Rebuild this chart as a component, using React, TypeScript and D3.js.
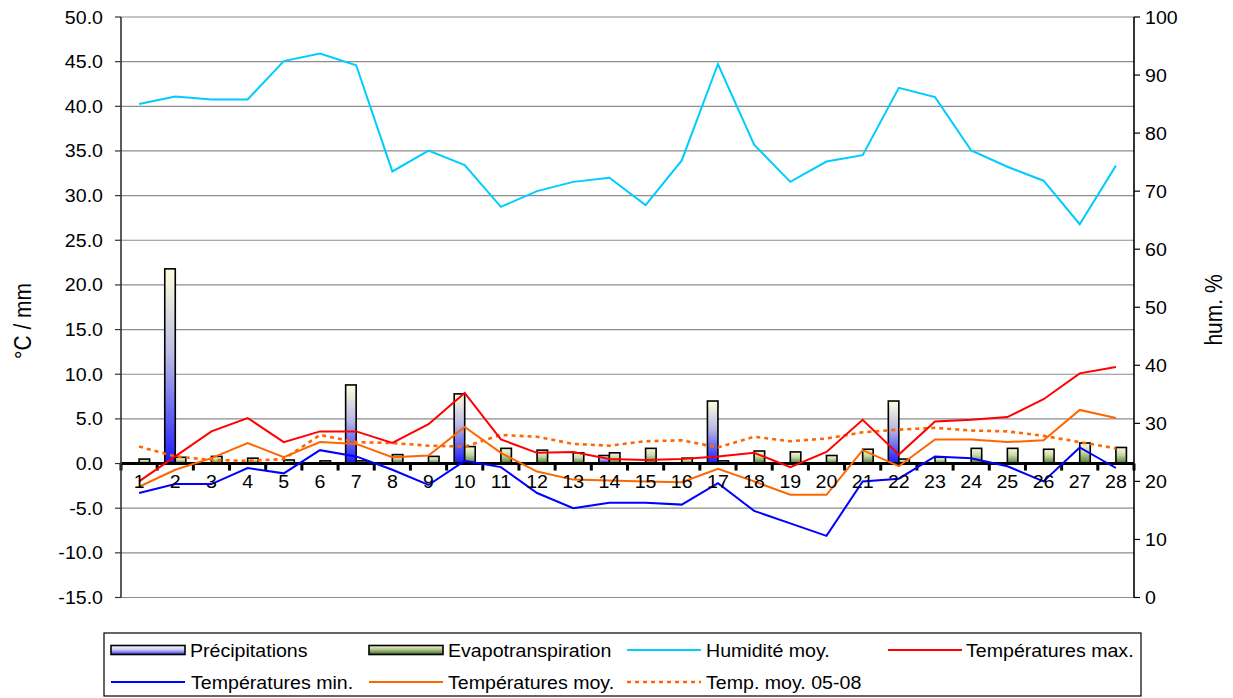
import * as d3 from 'd3';

// days of the month (x categories)
const days = ['1', '2', '3', '4', '5', '6', '7', '8', '9', '10', '11', '12', '13', '14',
  '15', '16', '17', '18', '19', '20', '21', '22', '23', '24', '25', '26', '27', '28'];

// mm
const precipitation = [0, 21.8, 0, 0, 0, 0, 8.8, 0, 0, 7.8, 0, 0, 0, 0.9,
  0, 0, 7.0, 0, 0, 0, 0, 7.0, 0, 0, 0, 0, 0, 0];
const evapotranspiration = [0.5, 0.7, 0.8, 0.6, 0.4, 0.3, 0.3, 1.0, 0.8, 1.9, 1.7, 1.5, 1.2, 1.2,
  1.7, 0.6, 0.3, 1.4, 1.3, 0.9, 1.6, 0.5, 0.7, 1.7, 1.7, 1.6, 2.3, 1.8];
// %
const humidity = [85.0, 86.3, 85.8, 85.8, 92.4, 93.7, 91.7, 73.4, 77.0, 74.5, 67.3, 70.0, 71.6, 72.3,
  67.6, 75.3, 91.9, 78.0, 71.6, 75.1, 76.2, 87.8, 86.2, 77.0, 74.2, 71.8, 64.3, 74.4];
// °C
const tempMax = [-2.0, 0.8, 3.6, 5.1, 2.4, 3.6, 3.6, 2.3, 4.4, 7.9, 2.7, 1.2, 1.3, 0.5,
  0.4, 0.5, 0.8, 1.2, -0.4, 1.3, 4.9, 1.0, 4.7, 4.9, 5.2, 7.2, 10.1, 10.8];
const tempMin = [-3.3, -2.3, -2.3, -0.5, -1.1, 1.5, 0.8, -0.7, -2.4, 0.3, -0.4, -3.3, -5.0, -4.4,
  -4.4, -4.6, -2.2, -5.3, -6.7, -8.1, -2.0, -1.7, 0.8, 0.6, -0.3, -2.0, 1.8, -0.5];
const tempMoy = [-2.6, -0.7, 0.6, 2.3, 0.7, 2.4, 2.2, 0.7, 0.9, 4.1, 1.2, -0.9, -1.8, -1.9,
  -2.0, -2.1, -0.6, -2.0, -3.5, -3.5, 1.5, -0.3, 2.7, 2.7, 2.4, 2.6, 6.0, 5.1];
const tempMoyRef = [1.9, 0.8, 0.4, 0.3, 0.5, 3.2, 2.4, 2.3, 2.0, 1.9, 3.2, 3.0, 2.2, 2.0,
  2.5, 2.6, 1.8, 3.0, 2.5, 2.8, 3.5, 3.8, 4.0, 3.7, 3.6, 3.1, 2.4, 1.7];

const leftTicks = [-15, -10, -5, 0, 5, 10, 15, 20, 25, 30, 35, 40, 45, 50];
const rightTicks = [0, 10, 20, 30, 40, 50, 60, 70, 80, 90, 100];

const FONT = '"Liberation Sans", Arial, sans-serif';
const SX = 1.12; // the original picture is a bit stretched sideways

const T = ({ x, y, size = 17.5, anchor = 'start', rotate = 0, children }: any) => (
  <text
    transform={`translate(${x},${y}) scale(${SX},1)${rotate ? ` rotate(${rotate})` : ''}`}
    fontSize={size}
    fontFamily={FONT}
    textAnchor={anchor}
    fill="#000"
  >
    {children}
  </text>
);

export default function App() {
  const left = 121, right = 1134, top = 17, bottom = 597.5;

  const x = d3.scaleBand().domain(days).range([left, right]);
  const xs = d3.scaleBand().domain(['p', 'e']).range([0, x.bandwidth()]).paddingOuter(0.72);
  const y = d3.scaleLinear().domain([-15, 50]).range([bottom, top]);
  const yh = d3.scaleLinear().domain([0, 100]).range([bottom, top]);
  const cx = (d: string) => (x(d) as number) + x.bandwidth() / 2;

  const tLine = (vals: number[]) =>
    d3.line<number>().x((_, i) => cx(days[i])).y((v) => y(v))(vals) as string;
  const hLine = d3.line<number>().x((_, i) => cx(days[i])).y((v) => yh(v));

  const lines = [
    { vals: tempMoyRef, color: '#FF6600', dash: '4,4', w: 2.6 },
    { vals: tempMoy, color: '#FF6600', dash: undefined, w: 2 },
    { vals: tempMin, color: '#0000FF', dash: undefined, w: 2 },
    { vals: tempMax, color: '#FF0000', dash: undefined, w: 2 },
  ];

  const bars = [
    { key: 'p', vals: precipitation, fill: 'url(#gPrec)' },
    { key: 'e', vals: evapotranspiration, fill: 'url(#gEvap)' },
  ];

  const legendRows = [
    [
      { kind: 'bar', fill: 'url(#gPrecL)', label: 'Précipitations', sx: 111, tx: 190 },
      { kind: 'bar', fill: 'url(#gEvapL)', label: 'Evapotranspiration', sx: 369, tx: 448 },
      { kind: 'line', color: '#00CCFF', label: 'Humidité moy.', sx: 627, tx: 706 },
      { kind: 'line', color: '#FF0000', label: 'Températures max.', sx: 888, tx: 966 },
    ],
    [
      { kind: 'line', color: '#0000FF', label: 'Températures min.', sx: 111, tx: 191 },
      { kind: 'line', color: '#FF6600', label: 'Températures moy.', sx: 369, tx: 448 },
      { kind: 'line', color: '#FF6600', dash: '4,4', label: 'Temp. moy. 05-08', sx: 627, tx: 706 },
    ],
  ];

  return (
    <svg width={1233} height={698} style={{ position: 'absolute', left: 0, top: 0, background: '#fff' }}>
      <defs>
        <linearGradient id="gPrec" x1="0" y1="0" x2="0" y2="1">
          <stop offset="0" stopColor="#FFFFDC" />
          <stop offset="0.45" stopColor="#B8B8E4" />
          <stop offset="1" stopColor="#1A1AFF" />
        </linearGradient>
        <linearGradient id="gEvap" x1="0" y1="0" x2="0" y2="1">
          <stop offset="0" stopColor="#FAFAD8" />
          <stop offset="0.45" stopColor="#C8D8A8" />
          <stop offset="1" stopColor="#4E8030" />
        </linearGradient>
        <linearGradient id="gPrecL" x1="0" y1="0" x2="0" y2="1">
          <stop offset="0" stopColor="#FFFFFF" />
          <stop offset="0.5" stopColor="#C8C8F0" />
          <stop offset="1" stopColor="#3030E0" />
        </linearGradient>
        <linearGradient id="gEvapL" x1="0" y1="0" x2="0" y2="1">
          <stop offset="0" stopColor="#F4F8E0" />
          <stop offset="0.5" stopColor="#A8C080" />
          <stop offset="1" stopColor="#3A6A20" />
        </linearGradient>
      </defs>

      {/* grid */}
      {leftTicks.map((t) => (
        <line key={'g' + t} x1={left} x2={right} y1={y(t)} y2={y(t)} stroke="#8C8C8C" strokeWidth={1.2} />
      ))}

      {/* bars */}
      {bars.map((b) =>
        b.vals.map((v, i) =>
          v > 0 ? (
            <rect
              key={b.key + i}
              x={(x(days[i]) as number) + (xs(b.key) as number)}
              y={y(v)}
              width={xs.bandwidth()}
              height={y(0) - y(v)}
              fill={b.fill}
              stroke="#000"
              strokeWidth={1.6}
            />
          ) : null
        )
      )}

      {/* zero axis with category ticks */}
      <line x1={left} x2={right} y1={y(0)} y2={y(0)} stroke="#000" strokeWidth={3} />
      {days.map((d) => (
        <line key={'xt' + d} x1={x(d)} x2={x(d)} y1={y(0)} y2={y(0) + 7} stroke="#000" strokeWidth={3} />
      ))}
      <line x1={right} x2={right} y1={y(0)} y2={y(0) + 7} stroke="#000" strokeWidth={3} />

      {/* temperature lines */}
      {lines.map((l, i) => (
        <path key={'l' + i} d={tLine(l.vals)} fill="none" stroke={l.color} strokeWidth={l.w} strokeDasharray={l.dash} />
      ))}
      {/* humidity */}
      <path d={hLine(humidity) as string} fill="none" stroke="#00CCFF" strokeWidth={2} />

      {/* axes */}
      <line x1={left} x2={left} y1={top} y2={bottom} stroke="#333" strokeWidth={1.6} />
      <line x1={right} x2={right} y1={top} y2={bottom} stroke="#000" strokeWidth={1.6} />
      {leftTicks.map((t) => (
        <g key={'lt' + t}>
          <line x1={left - 6} x2={left} y1={y(t)} y2={y(t)} stroke="#333" strokeWidth={1.2} />
          <T x={103} y={y(t) + 6.5} anchor="end">{t.toFixed(1)}</T>
        </g>
      ))}
      {rightTicks.map((t) => (
        <g key={'rt' + t}>
          <line x1={right} x2={right + 6} y1={yh(t)} y2={yh(t)} stroke="#000" strokeWidth={1.2} />
          <T x={1145} y={yh(t) + 6.5}>{t}</T>
        </g>
      ))}
      {days.map((d) => (
        <T key={'xl' + d} x={cx(d)} y={y(0) + 24} anchor="middle">{d}</T>
      ))}

      {/* axis titles */}
      <T x={31} y={321} size={21} anchor="middle" rotate={-90}>°C / mm</T>
      <T x={1222} y={310} size={21} anchor="middle" rotate={-90}>hum. %</T>

      {/* legend */}
      <rect x={104} y={633} width={1037} height={63} fill="#fff" stroke="#000" strokeWidth={1.2} />
      {legendRows.map((row, r) =>
        row.map((it: any) => {
          const cy = r === 0 ? 650 : 682;
          return (
            <g key={it.label}>
              {it.kind === 'bar' ? (
                <rect x={it.sx} y={cy - 4.5} width={74} height={9} fill={it.fill} stroke="#000" strokeWidth={1.6} />
              ) : (
                <line x1={it.sx} x2={it.sx + 74} y1={cy} y2={cy} stroke={it.color} strokeWidth={it.dash ? 2.4 : 2} strokeDasharray={it.dash} />
              )}
              <T x={it.tx} y={cy + 6.5}>{it.label}</T>
            </g>
          );
        })
      )}
    </svg>
  );
}
